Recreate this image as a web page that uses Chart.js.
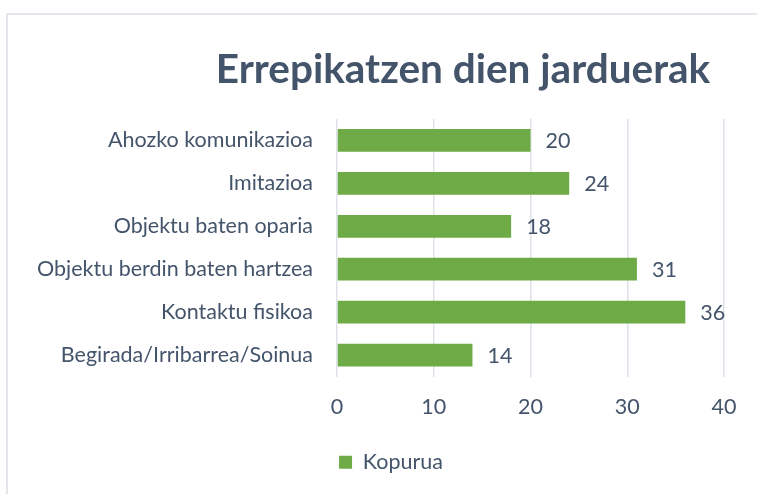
<!DOCTYPE html>
<html><head><meta charset="utf-8">
<script src="https://cdn.jsdelivr.net/npm/chart.js@4/dist/chart.umd.min.js"></script>
<style>
html,body{margin:0;padding:0;background:#fff;}
#wrap{position:relative;width:757px;height:494px;overflow:hidden;}
#frame{position:absolute;left:6px;top:13px;width:800px;height:520px;border:2px solid #E3E7EC;box-sizing:border-box;}
canvas{position:absolute;left:0;top:0;}
</style></head>
<body>
<div id="wrap"><div id="frame"></div><canvas id="c" width="757" height="494"></canvas></div>
<script>
const titleText = "Errepikatzen dien jarduerak";
const categories = ["Ahozko komunikazioa","Imitazioa","Objektu baten oparia","Objektu berdin baten hartzea","Kontaktu fisikoa","Begirada/Irribarrea/Soinua"];
const seriesName = "Kopurua";
const values = [20,24,18,31,36,14];
const xTicks = [0,10,20,30,40];

const FONT = "Lato, 'Open Sans', sans-serif";
const TXT = "#44546A";
const FS = 21.5;

const titlePlugin = {
  id:'customTitle',
  beforeDraw(chart){
    if (chart.legend && !chart.legend._shifted) {
      chart.legend.left += 29; chart.legend.right += 29; chart.legend._shifted = true;
    }
  },
  afterDraw(chart){
    const ctx = chart.ctx;
    ctx.save();
    ctx.font = "bold 40.5px " + FONT;
    ctx.fillStyle = TXT;
    ctx.textAlign = "center";
    ctx.textBaseline = "middle";
    ctx.fillText(titleText, 463, 70);
    ctx.restore();
  }
};
const labelPlugin = {
  id:'valueLabels',
  afterDatasetsDraw(chart){
    const ctx = chart.ctx;
    const meta = chart.getDatasetMeta(0);
    ctx.save();
    ctx.font = FS + "px " + FONT;
    ctx.fillStyle = TXT;
    ctx.textAlign = "left";
    ctx.textBaseline = "middle";
    meta.data.forEach((bar,i)=>{
      ctx.fillText(String(chart.data.datasets[0].data[i]), bar.x + 15, bar.y + 1);
    });
    ctx.restore();
  }
};

new Chart(document.getElementById('c'), {
  type:'bar',
  data:{labels:categories, datasets:[{label:seriesName, data:values, backgroundColor:'#6EAB46', borderWidth:0, categoryPercentage:1, barPercentage:0.53}]},
  options:{
    indexAxis:'y', responsive:false, animation:false,
    layout:{padding:{left:0,right:33,top:119,bottom:11}},
    plugins:{
      legend:{position:'bottom', labels:{font:{family:FONT,size:FS}, color:TXT, boxWidth:13, boxHeight:13, padding:10}},
      tooltip:{enabled:false},
      title:{display:false}
    },
    scales:{
      y:{
        grid:{display:false, drawTicks:false},
        border:{display:false},
        ticks:{font:{family:FONT,size:FS}, color:TXT, padding:24},
        afterFit(s){ s.width = 337; }
      },
      x:{
        min:0, max:40,
        afterBuildTicks(s){ s.ticks = xTicks.map(v=>({value:v})); },
        grid:{color:'#DDE2E8', lineWidth:1.5, drawTicks:false},
        border:{display:false},
        ticks:{font:{family:FONT,size:FS}, color:TXT, padding:18},
        afterFit(s){ s.height = 65; }
      }
    }
  },
  plugins:[titlePlugin, labelPlugin]
});
</script>
</body></html>
